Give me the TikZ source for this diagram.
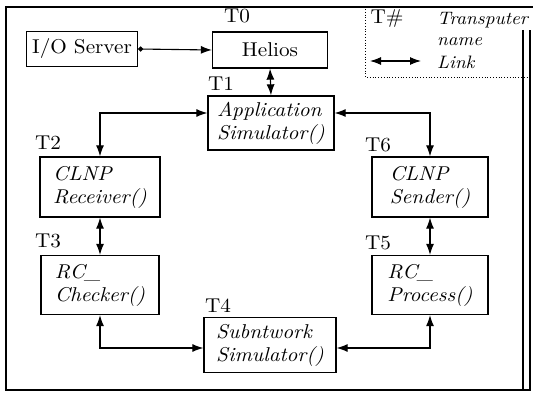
\documentclass[tikz,border=0pt]{standalone}
\usepackage{fontspec}
\setmainfont{lmroman10-regular.otf}[ItalicFont=lmroman10-italic.otf, FakeStretch=1.06]
\usetikzlibrary{arrows.meta, positioning}

\begin{document}
\begin{tikzpicture}[
        x=1pt, y=-1pt,
        unit/.style={rectangle, draw=black, line width=1.3pt, align=left, inner sep=0pt, font=\fontsize{20}{23}\selectfont\itshape},
        host/.style={unit, font=\fontsize{20}{23}\selectfont},
        tname/.style={inner sep=0pt, font=\fontsize{20}{23}\selectfont},
        legtext/.style={inner sep=0pt, anchor=west, font=\fontsize{18}{21}\selectfont\itshape},
        chan/.style={{Latex[length=11pt,width=8pt]}-{Latex[length=11pt,width=8pt]}, line width=1.1pt},
        legline/.style={dotted, line width=0.8pt}
    ]
        \useasboundingbox (0,0) rectangle (533,393);

        % Outer frame
        \draw[line width=1.5pt] (533,7) -- (6,7) -- (6,390) -- (530,390) -- (530,30);
        \draw[line width=1.5pt] (523,30) -- (523,390);

        % Legend
        \draw[legline] (365,9) -- (365,77) -- (530,77);
        \node[tname] (tsym) at (387,19) {T\#};
        \node[legtext] (ltrans) at (437,20) {Transputer};
        \node[legtext] (lname) at (437,42) {name};
        \node[legtext] (llink) at (437,62) {Link};
        \coordinate (la) at (370,61);
        \coordinate (lb) at (421,61);
        \draw[chan] (la) -- (lb);

        % Transputers (top)
        \node[host, minimum width=111pt, minimum height=35pt] (io) at (82,49) {I/O Server};
        \node[host, minimum width=115pt, minimum height=36pt] (helios) at (270,50) {Helios};
        \node[unit, minimum width=126pt, minimum height=54pt] (app) at (271,123) {Application\\Simulator()};

        % Transputers (ring)
        \node[unit, minimum width=120pt, minimum height=60pt] (recv) at (100,187) {CLNP\\Receiver()};
        \node[unit, minimum width=116pt, minimum height=60pt] (send) at (430,187) {CLNP\\Sender()};
        \node[unit, minimum width=118pt, minimum height=59pt] (check) at (100,285) {RC\_\\Checker()};
        \node[unit, minimum width=116pt, minimum height=59pt] (proc) at (430,285) {RC\_\\Process()};
        \node[unit, minimum width=132pt, minimum height=55pt] (subnet) at (270,345) {Subntwork\\Simulator()};

        % Transputer names
        \node[tname] (t0) at (237,16) {T0};
        \node[tname] (t1) at (221,84) {T1};
        \node[tname] (t2) at (48,143) {T2};
        \node[tname] (t6) at (378,145) {T6};
        \node[tname] (t3) at (48,241) {T3};
        \node[tname] (t5) at (378,243) {T5};
        \node[tname] (t4) at (218,306) {T4};

        % Links
        \draw[chan, {Circle[length=5pt]}-{Latex[length=11pt,width=8pt]}] (io.east) -- (helios.west);
        \draw[chan] (helios.south) -- (app.north);
        \draw[chan] (recv.north) |- ([yshift=10pt]app.west);
        \draw[chan] (send.north) |- ([yshift=10pt]app.east);
        \draw[chan] (recv.south) -- (check.north);
        \draw[chan] (send.south) -- (proc.north);
        \draw[chan] (check.south) |- ([yshift=-3pt]subnet.west);
        \draw[chan] (proc.south) |- ([yshift=-3pt]subnet.east);

    \end{tikzpicture}
\end{document}
